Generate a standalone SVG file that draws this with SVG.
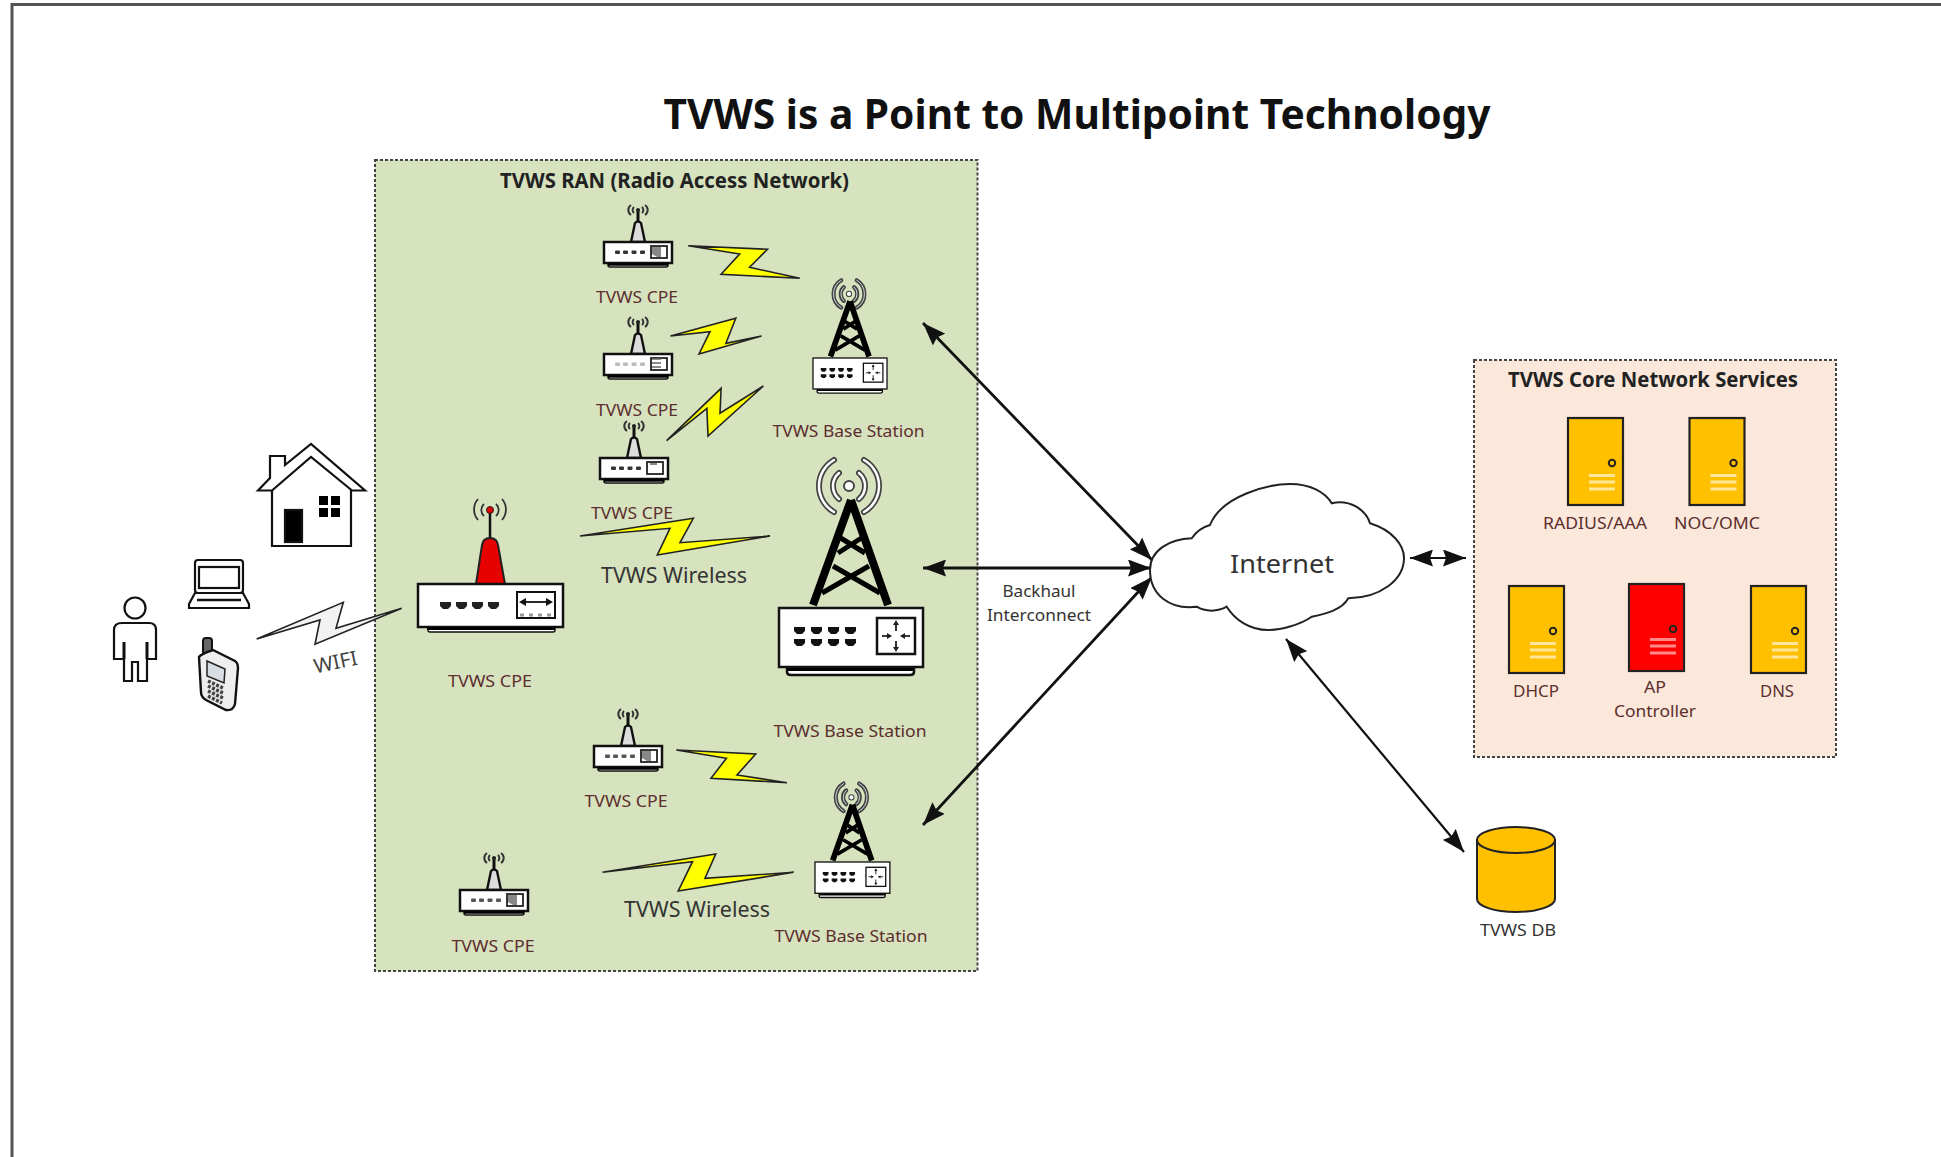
<svg xmlns="http://www.w3.org/2000/svg" xmlns:xlink="http://www.w3.org/1999/xlink" width="1941" height="1157" viewBox="0 0 1941 1157">
<style>
text{font-family:"Noto Sans","Open Sans","DejaVu Sans",sans-serif;text-anchor:middle}
.title{font-size:41px;font-weight:700;fill:#111}
.hdr{font-size:21px;font-weight:700;fill:#222}
.lbl{font-size:16px;fill:#5c2e2e}
.wl{font-size:21px;fill:#333}
.blk{font-size:16px;fill:#333}
.net{font-size:26px;fill:#333}
.zone{stroke:#444;stroke-width:2;stroke-dasharray:3 2}
.bolt{fill:#ffff00;stroke:#222;stroke-width:1.6;stroke-linejoin:miter}
.link{fill:none;stroke:#111;stroke-width:2.8;marker-start:url(#ah);marker-end:url(#ah)}
.thin{stroke-width:2.2}
.door{stroke:#222;stroke-width:2.2}
.ln{stroke-width:3;fill:none}
.wh{fill:#fff;stroke:#111;stroke-width:2.5}
.arc1{fill:none;stroke:#444;stroke-width:var(--a1,6);stroke-linecap:round}
.arc2{fill:none;stroke:#fff;stroke-width:var(--a2,2.5);stroke-linecap:round}
.leg{fill:none;stroke:#000;stroke-width:var(--l1,8)}
.brace{fill:none;stroke:#000;stroke-width:var(--l2,5)}
.sm{--a1:8;--a2:1.5;--l1:11;--l2:7}
</style>
<defs>
<marker id="ah" markerUnits="userSpaceOnUse" markerWidth="23" markerHeight="17" refX="23" refY="8.500" orient="auto-start-reverse"><path d="M0,0L23,8.500L0,17L3,8.500Z" fill="#111"/></marker>
<g id="port"><path d="M0,0H11V4L8,7H3L0,4Z"/></g>
<g id="tower">
<path class="arc1" d="M55,-148A30,30 0 0 0 55,-96M85,-148A30,30 0 0 1 85,-96M60,-135A17,17 0 0 0 60,-109M80,-135A17,17 0 0 1 80,-109"/>
<path class="arc2" d="M55,-148A30,30 0 0 0 55,-96M85,-148A30,30 0 0 1 85,-96M60,-135A17,17 0 0 0 60,-109M80,-135A17,17 0 0 1 80,-109"/>
<circle cx="70" cy="-122" r="5" fill="#fff" stroke="#444" stroke-width="2"/>
<path class="leg" d="M72,-108L34,-3M72,-108L109,-3"/>
<path class="brace" d="M59,-55L84,-71M60,-71L86,-55M43,-15L90,-42M54,-42L101,-15"/>
<path d="M8,59V64Q8,67 12,67H131Q135,67 135,64V59Z" class="wh"/>
<rect width="144" height="59" class="wh"/>
<path d="M8,61.500H135" stroke="#000" stroke-width="3"/>
<g fill="#111"><use xlink:href="#port" x="15" y="19"/><use xlink:href="#port" x="32" y="19"/><use xlink:href="#port" x="49" y="19"/><use xlink:href="#port" x="66" y="19"/><use xlink:href="#port" x="15" y="31"/><use xlink:href="#port" x="32" y="31"/><use xlink:href="#port" x="49" y="31"/><use xlink:href="#port" x="66" y="31"/></g>
<rect x="98" y="10" width="38" height="36" fill="#fff" stroke="#111" stroke-width="2.500"/>
<path d="M117,14V23M117,42V33M103,28H112M131,28H122" stroke="#333" stroke-width="2" fill="none"/>
<path d="M117,12L114,17H120ZM117,44L114,39H120ZM113,28L108,25V31ZM121,28L126,25V31Z" fill="#222"/>
</g>
<g id="cpes">
<path d="M34,-20V-33" stroke="#111" stroke-width="3"/>
<path d="M27,-37A6,6 0 0 0 27,-27M41,-37A6,6 0 0 1 41,-27M30,-35A4,4 0 0 0 30,-29M38,-35A4,4 0 0 1 38,-29" stroke="#333" stroke-width="2" fill="none"/>
<circle cx="34" cy="-32" r="2" fill="#222"/>
<path d="M27,0L31,-19Q34,-22 37,-19L41,0Z" fill="#ddd" stroke="#111" stroke-width="2.400"/>
<path d="M4,21V23Q4,25 6,25H62Q64,25 64,23V21Z" fill="#fff" stroke="#111" stroke-width="1.500"/>
<rect width="68" height="21" class="wh" stroke-width="2"/>
<path d="M4,22.500H64" stroke="#000" stroke-width="2.500"/>
<rect x="47" y="4" width="16" height="12" fill="#fff" stroke="#222" stroke-width="1.800"/>
</g>
<g id="ps"><rect x="11" y="8.500" width="5" height="3.500" rx="1"/><rect x="19" y="8.500" width="5" height="3.500" rx="1"/><rect x="27.500" y="8.500" width="5" height="3.500" rx="1"/><rect x="36" y="8.500" width="5" height="3.500" rx="1"/></g>
<g id="door"><rect width="55" height="87" class="door"/><circle cx="44" cy="45" r="3.200" fill="none" stroke="#222" stroke-width="2"/></g>
<path id="lines" d="M21,57.500H47M21,64H47M21,71H47" class="ln"/>
</defs>

<rect id="bg" width="1941" height="1157" fill="#fff"/>
<path id="frame" d="M12,1157V4.500H1941" fill="none" stroke="#555" stroke-width="3"/>
<text class="title" x="1077" y="129" textLength="827" lengthAdjust="spacingAndGlyphs">TVWS is a Point to Multipoint Technology</text>

<g id="ran-zone"><rect x="375" y="160" width="602.500" height="811" fill="#d7e2be" class="zone"/>
<text class="hdr" x="674.500" y="188" textLength="349" lengthAdjust="spacingAndGlyphs">TVWS RAN (Radio Access Network)</text></g>

<g id="core-zone"><rect x="1474" y="360" width="362" height="397" fill="#fbe8da" class="zone"/>
<text class="hdr" x="1653" y="387" textLength="290" lengthAdjust="spacingAndGlyphs">TVWS Core Network Services</text></g>

<g id="connectors">
<path class="link" d="M923,323L1152,560"/>
<path class="link" d="M923,568H1151"/>
<path class="link" d="M923,825L1152,577"/>
<path class="link thin" d="M1410,558H1466"/>
<path class="link thin" d="M1286,639L1464,852"/>
<polygon class="bolt" points="688.300,245.700 767.400,249.300 749.600,267.300 799.800,278.300 721.100,274.300 739.700,254"/>
<polygon class="bolt" points="670.500,336 735.800,318.300 725.900,343.300 761.500,336 699,354 710,331.700"/>
<polygon class="bolt" points="666.600,440.700 721.100,388.300 720,413.300 763.400,386 708,436 706.900,408.300"/>
<polygon class="bolt" points="580,536 693.300,518.300 680,542.700 770,536 657.300,555 670,528.300"/>
<polygon class="bolt" points="676.400,750 755.700,754 737,775 787,782.700 711,778.300 726.400,758.300"/>
<polygon class="bolt" points="602.500,872.300 715.700,854 705,878.300 793.600,872.300 678.200,891 692.500,861.700"/>
<polygon class="bolt" style="fill:#f2f2f2" points="256.700,639 343.300,602.300 336,628.300 401.700,608.300 315,644.300 320,620"/>
</g>

<g id="cloud"><path d="M1150,570C1150,550 1170,539 1191.700,538.300C1196,532 1203,527 1210,525C1222,495 1270,484 1290,484C1310,484 1325,492 1331.700,503.300C1350,499 1366,510 1370,523.300C1392,530 1404,545 1404,558C1404,580 1380,598 1348.300,598.300C1342,610 1325,614 1311.700,616.700C1300,625 1280,630 1268,630C1250,630 1235,620 1226.700,606.700C1218,612 1205,612 1196.700,606.700C1170,610 1150,595 1150,570Z" fill="#fff" stroke="#222" stroke-width="2"/>
<text class="net" x="1282" y="573" textLength="104" lengthAdjust="spacingAndGlyphs">Internet</text></g>
<text id="backhaul1" class="blk" x="1039" y="597" textLength="73" lengthAdjust="spacingAndGlyphs">Backhaul</text>
<text id="backhaul2" class="blk" x="1039" y="621" textLength="104" lengthAdjust="spacingAndGlyphs">Interconnect</text>

<g id="person" fill="#fff" stroke="#111" stroke-width="2.200"><circle cx="135" cy="608" r="10.500"/>
<path d="M114,659V630Q114,623 122,623H149Q156,623 156,630V659H147V681H138V662H132V681H124V659Z"/><path d="M124,642V659M147,642V659" stroke-width="3"/></g>
<g id="laptop" fill="#fff" stroke="#111" stroke-width="2.200"><rect x="195" y="560" width="48" height="33" rx="3"/><rect x="199" y="567" width="40" height="21"/><path d="M195,593L189,604V608H249V604L243,593Z"/><path d="M197,600H241" stroke-width="2.500"/></g>
<g id="phone"><rect x="203" y="638" width="9" height="17" rx="3" fill="#666" stroke="#111" stroke-width="2"/>
<path d="M199,657Q201,654 213,650L235,661Q238,663 238,668L235,704Q233,711 226,710L206,700Q201,697 201,692Z" fill="#eee" stroke="#111" stroke-width="2.400"/>
<path d="M207,661L225,669L224,683L207,676Z" fill="#d8dde2" stroke="#222" stroke-width="1.500"/>
<path d="M208,681L223,688M208,686L223,693M208,691L223,698M208,696L222,703" stroke="#444" stroke-width="3.500" stroke-dasharray="3 1.500" fill="none"/></g>
<g id="house" fill="#fff" stroke="#111" stroke-width="2.200"><path d="M272,490V546H351V490"/><path d="M258,490.500L270,478V456H285V465L311,444L365,490.500H352L311,457L272,490.500Z"/>
<rect x="285" y="510" width="17" height="32" fill="#000"/>
<g fill="#000" stroke="none"><rect x="319" y="496" width="9" height="9"/><rect x="331" y="496" width="9" height="9"/><rect x="319" y="508" width="9" height="9"/><rect x="331" y="508" width="9" height="9"/></g></g>
<text id="wifi" style="font-size:20px;fill:#444" transform="translate(337,669) rotate(-12)" textLength="44" lengthAdjust="spacingAndGlyphs">WIFI</text>

<g id="cpe-main">
<path d="M490,538V511" stroke="#111" stroke-width="2.500"/>
<path d="M478,499A16,16 0 0 0 478,520M502,499A16,16 0 0 1 502,520M484,504A8,8 0 0 0 484,516M496,504A8,8 0 0 1 496,516" fill="none" stroke="#333" stroke-width="1.800"/>
<circle cx="490" cy="510" r="3.500" fill="#e00000" stroke="#222"/>
<path d="M476,584L482,545Q483,538 490,538Q497,538 498,545L505,584Z" fill="#e60000" stroke="#222" stroke-width="2"/>
<path d="M428,627V630Q428,632 430,632H553Q555,632 555,630V627Z" fill="#fff" stroke="#111" stroke-width="1.500"/>
<rect x="418" y="584" width="145" height="43" class="wh"/>
<path d="M427,628.500H555" stroke="#000" stroke-width="3"/>
<g fill="#222"><use xlink:href="#port" x="440" y="602"/><use xlink:href="#port" x="456" y="602"/><use xlink:href="#port" x="472" y="602"/><use xlink:href="#port" x="488" y="602"/></g>
<rect x="517" y="592" width="38" height="26" fill="#fff" stroke="#111" stroke-width="2"/>
<path d="M523,602H549" stroke="#111" stroke-width="1.800"/><path d="M519,602L526,598V606ZM553,602L546,598V606Z" fill="#111"/>
<path d="M520,615H552" stroke="#999" stroke-width="3" stroke-dasharray="4 5"/>
<text class="lbl" x="490" y="687" textLength="84" lengthAdjust="spacingAndGlyphs">TVWS CPE</text></g>

<g id="cpe-1"><use xlink:href="#cpes" x="604" y="242"/><use xlink:href="#ps" x="604" y="242" fill="#333"/><path d="M652,247H661V257H657L652,254Z" fill="#888"/><text class="lbl" x="637" y="303" textLength="82" lengthAdjust="spacingAndGlyphs">TVWS CPE</text></g>
<g id="cpe-2"><use xlink:href="#cpes" x="604" y="354"/><use xlink:href="#ps" x="604" y="354" fill="#bbb"/><path d="M652,359H661M652,363H661M652,367H661" stroke="#666" stroke-width="1.500"/><text class="lbl" x="637" y="416" textLength="82" lengthAdjust="spacingAndGlyphs">TVWS CPE</text></g>
<g id="cpe-3"><use xlink:href="#cpes" x="600" y="458"/><use xlink:href="#ps" x="600" y="458" fill="#333"/><path d="M650,464H657" stroke="#888" stroke-width="2"/><text class="lbl" x="632" y="519" textLength="82" lengthAdjust="spacingAndGlyphs">TVWS CPE</text></g>
<g id="cpe-4"><use xlink:href="#cpes" x="594" y="746"/><use xlink:href="#ps" x="594" y="746" fill="#555"/><path d="M642,751H651V761H647L642,758Z" fill="#888"/><text class="lbl" x="626" y="807" textLength="83" lengthAdjust="spacingAndGlyphs">TVWS CPE</text></g>
<g id="cpe-5"><use xlink:href="#cpes" x="460" y="890"/><use xlink:href="#ps" x="460" y="890" fill="#555"/><path d="M508,895H517V905H513L508,902Z" fill="#888"/><text class="lbl" x="493" y="952" textLength="83" lengthAdjust="spacingAndGlyphs">TVWS CPE</text></g>

<g id="bs-1"><use class="sm" xlink:href="#tower" transform="translate(813,358) scale(.514,.525)"/><text class="lbl" x="848.500" y="437" textLength="152" lengthAdjust="spacingAndGlyphs">TVWS Base Station</text></g>
<g id="bs-2"><use xlink:href="#tower" transform="translate(779,608)"/><text class="lbl" x="850" y="737" textLength="153" lengthAdjust="spacingAndGlyphs">TVWS Base Station</text></g>
<g id="bs-3"><use class="sm" xlink:href="#tower" transform="translate(815,862) scale(.52,.53)"/><text class="lbl" x="851" y="942" textLength="153" lengthAdjust="spacingAndGlyphs">TVWS Base Station</text></g>
<text id="wireless-1" class="wl" x="674" y="583" textLength="146" lengthAdjust="spacingAndGlyphs">TVWS Wireless</text>
<text id="wireless-2" class="wl" x="697" y="917" textLength="146" lengthAdjust="spacingAndGlyphs">TVWS Wireless</text>

<g id="radius"><use xlink:href="#door" x="1568" y="418" fill="#ffc000"/><use xlink:href="#lines" x="1568" y="418" stroke="#ffe699"/><text class="lbl" x="1595" y="529" textLength="104" lengthAdjust="spacingAndGlyphs">RADIUS/AAA</text></g>
<g id="noc"><use xlink:href="#door" x="1689.500" y="418" fill="#ffc000"/><use xlink:href="#lines" x="1689.500" y="418" stroke="#ffe699"/><text class="lbl" x="1717" y="529" textLength="86" lengthAdjust="spacingAndGlyphs">NOC/OMC</text></g>
<g id="dhcp"><use xlink:href="#door" x="1509" y="586" fill="#ffc000"/><use xlink:href="#lines" x="1509" y="586" stroke="#ffe699"/><text class="lbl" x="1536" y="697" textLength="46" lengthAdjust="spacingAndGlyphs">DHCP</text></g>
<g id="ap"><use xlink:href="#door" x="1629" y="584" fill="#ff0000"/><use xlink:href="#lines" x="1629" y="582" stroke="#ff8a8a"/><text class="lbl" x="1655" y="693" textLength="22" lengthAdjust="spacingAndGlyphs">AP</text><text class="lbl" x="1655" y="717" textLength="82" lengthAdjust="spacingAndGlyphs">Controller</text></g>
<g id="dns"><use xlink:href="#door" x="1751" y="586" fill="#ffc000"/><use xlink:href="#lines" x="1751" y="586" stroke="#ffe699"/><text class="lbl" x="1777" y="697" textLength="34" lengthAdjust="spacingAndGlyphs">DNS</text></g>

<g id="db"><path d="M1477,840V899C1477,906 1494,912 1516,912C1538,912 1555,906 1555,899V840Z" fill="#ffc000" stroke="#222" stroke-width="2"/><ellipse cx="1516" cy="840" rx="39" ry="13" fill="#ffc000" stroke="#222" stroke-width="2"/>
<text class="blk" x="1518" y="936" textLength="76" lengthAdjust="spacingAndGlyphs">TVWS DB</text></g>
</svg>
